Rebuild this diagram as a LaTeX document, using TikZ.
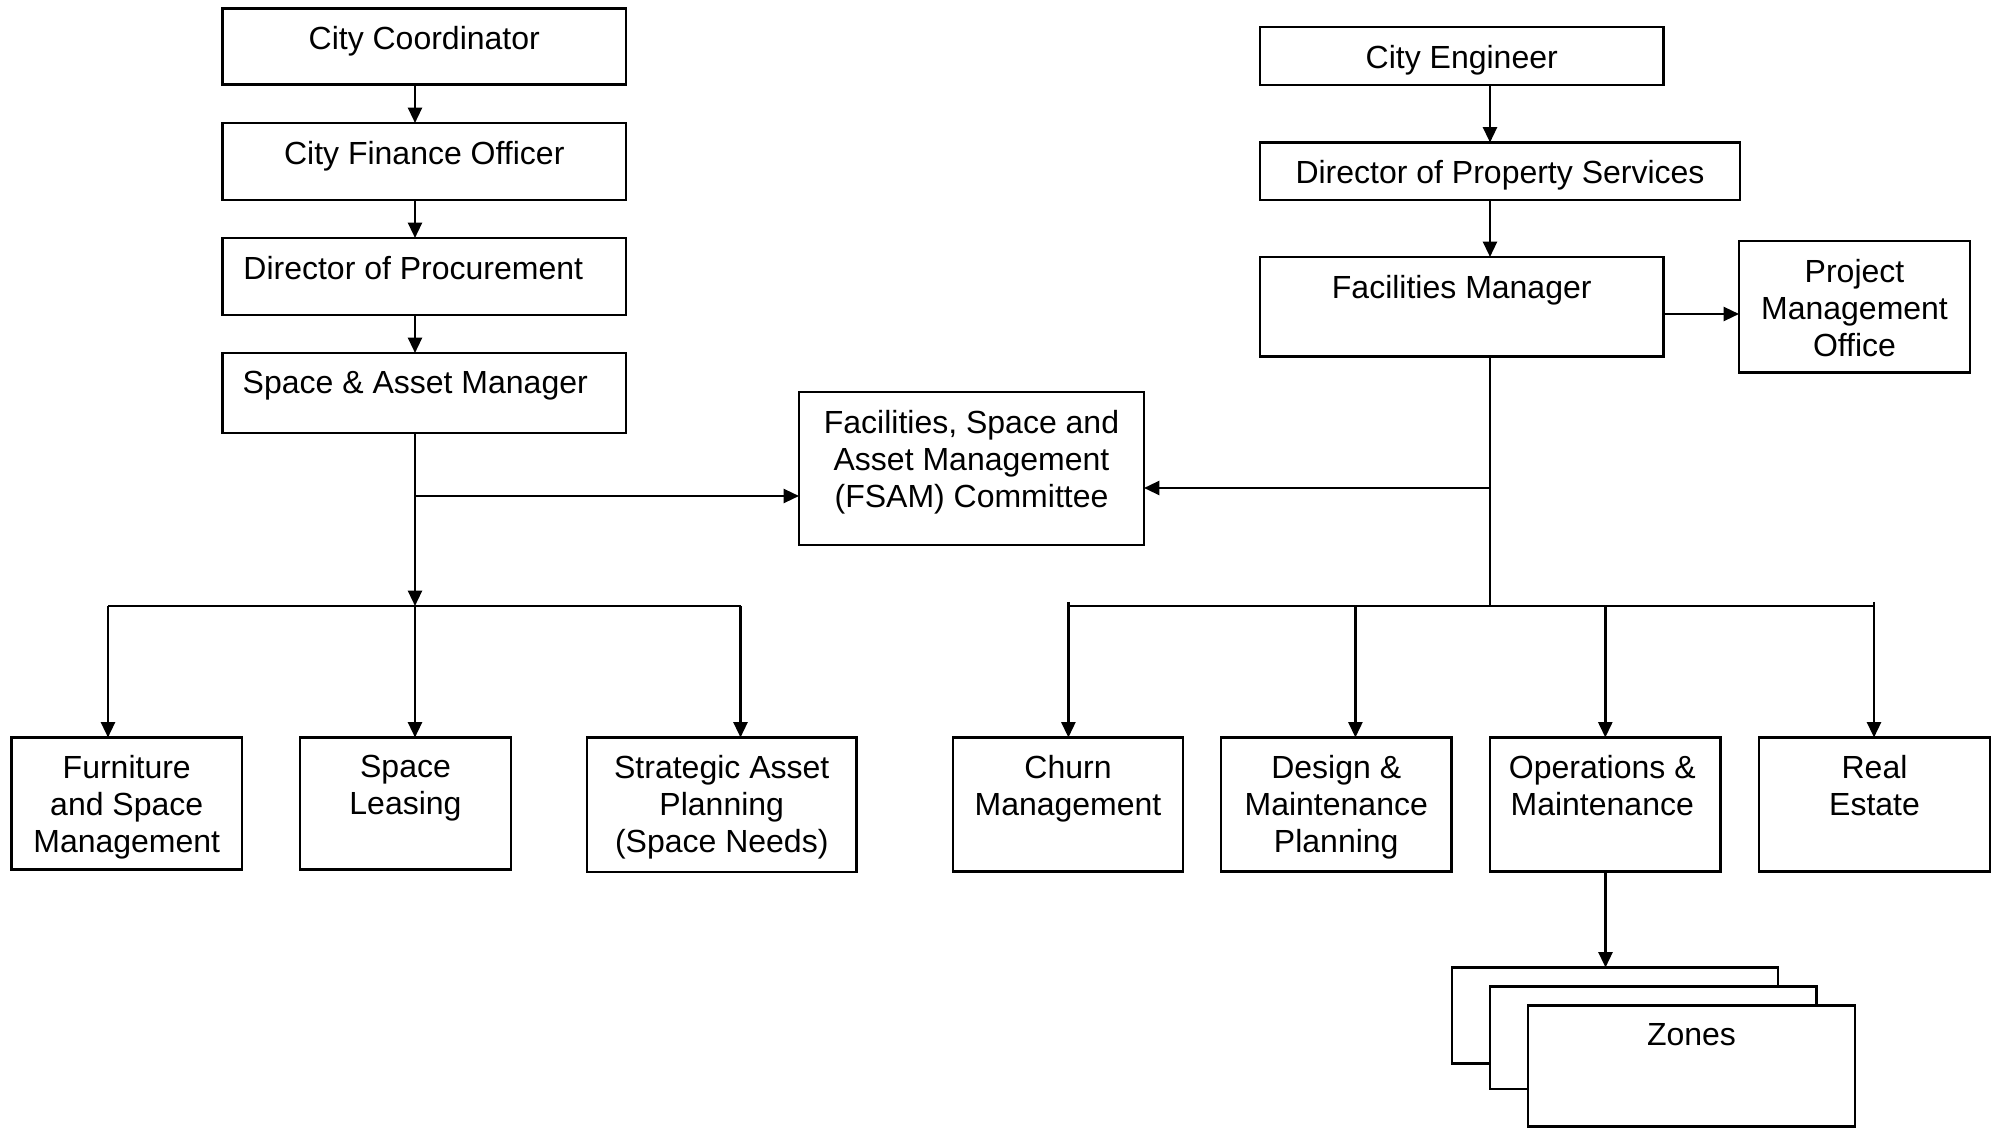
\documentclass[tikz,border=0pt]{standalone}
\usepackage{fontspec}
\setmainfont{Liberation Sans}
\usetikzlibrary{arrows.meta,calc}
\tikzset{
  box/.style={draw, line width=0.65pt, inner sep=0pt, outer sep=0pt, fill=white},
  txt/.style={inner sep=0pt, outer sep=0pt, align=center, font=\fontsize{9.1pt}{10.5pt}\selectfont},
  conn/.style={line width=0.7pt},
  arr/.style={conn, -{Triangle[length=4.4pt,width=4pt]}},
  thinconn/.style={line width=0.4pt},
}
\newcommand\orgbox[7]{%
  \node[box, anchor=north west, minimum width={(#4-#2)*0.01cm}, minimum height={(#5-#3)*0.01cm}] (#1) at (#2,#3) {};
  \node[txt, anchor=north] (#1t) at ([xshift={#7*0.01cm}, yshift=-0.18cm]#1.north) {#6};
}
\newcommand\plainbox[5]{%
  \node[box, anchor=north west, minimum width={(#4-#2)*0.01cm}, minimum height={(#5-#3)*0.01cm}] (#1) at (#2,#3) {};
}
\begin{document}
\begin{tikzpicture}[x=0.01cm, y=-0.01cm]
\fill[white] (0,0) rectangle (2000,1128);
\useasboundingbox (0,0) rectangle (2000,1128);

% left column
\orgbox{cc}{222.5}{8.5}{626}{84.5}{City Coordinator}{0}
\orgbox{cfo}{222.5}{123}{626}{200}{City Finance Officer}{0}
\orgbox{dp}{222.5}{238}{626}{315}{Director of Procurement}{-11}
\orgbox{sam}{222.5}{353}{626}{433}{Space \& Asset Manager}{-9}

% committee
\orgbox{fsam}{799}{392}{1144}{545}{Facilities, Space and\\Asset Management\\(FSAM) Committee}{0}

% right column
\orgbox{ce}{1260}{27}{1663.5}{85}{City Engineer}{0}
\orgbox{dps}{1260}{142.5}{1740}{200}{Director of Property Services}{0}
\orgbox{fm}{1260}{257}{1663.5}{356.5}{Facilities Manager}{0}
\orgbox{pmo}{1739}{241}{1970}{372.5}{Project\\Management\\Office}{0}

% bottom row left
\orgbox{fsm}{11.5}{737.5}{242}{869.5}{Furniture\\and Space\\Management}{0}
\orgbox{sl}{300}{737.5}{511}{869.5}{Space\\Leasing}{0}
\orgbox{sap}{587}{737.5}{856.5}{872}{Strategic Asset\\Planning\\(Space Needs)}{0}

% bottom row right
\orgbox{chm}{953}{737.5}{1183}{871.5}{Churn\\Management}{0}
\orgbox{dmp}{1221}{737.5}{1451.5}{871.5}{Design \&\\Maintenance\\Planning}{0}
\orgbox{om}{1490}{737.5}{1720.5}{871.5}{Operations \&\\Maintenance}{-3}
\orgbox{re}{1759}{737.5}{1990}{871.5}{Real\\Estate}{0}

% zones stack
\plainbox{z1}{1452}{967.5}{1778}{1063.5}
\plainbox{z2}{1490}{986.5}{1816.5}{1089}
\orgbox{z3}{1528}{1005.5}{1855}{1126.5}{Zones}{0}

% coordinates
\coordinate (lx) at (415,0);
\coordinate (lj) at (415,496);
\coordinate (lbusM) at (415,606);
\coordinate (lbusL) at (108,606);
\coordinate (lbusR) at (740.5,606);
\coordinate (rx) at (1490,0);
\coordinate (pmoy) at (0,314);
\coordinate (rj) at (1490,488);
\coordinate (rbusM) at (1490,606);
\coordinate (rbusL) at (1068.4,606);
\coordinate (rbusR) at (1874,606);
\coordinate (d1) at (1068.4,602);
\coordinate (d2) at (1355.4,606);
\coordinate (d3) at (1605.3,606);
\coordinate (d4) at (1874,602);
\coordinate (zx) at (1605.5,0);

% left connectors
\draw[arr] (cc.south -| lx) -- (cfo.north -| lx);
\draw[arr] (cfo.south -| lx) -- (dp.north -| lx);
\draw[arr] (dp.south -| lx) -- (sam.north -| lx);
\draw[arr] (sam.south -| lx) -- (lbusM);
\draw[arr] (lj) -- (fsam.west |- lj);
\draw[conn] (lbusL) -- (lbusR);
\draw[arr] (lbusL) -- (fsm.north -| lbusL);
\draw[arr] (lbusM) -- (sl.north -| lbusM);
\draw[arr] (lbusR) -- (sap.north -| lbusR);

% right connectors
\draw[arr] (ce.south -| rx) -- (dps.north -| rx);
\draw[arr] (dps.south -| rx) -- (fm.north -| rx);
\draw[arr] (fm.east |- pmoy) -- (pmo.west |- pmoy);
\draw[thinconn] (fm.south -| rx) -- (rbusM);
\draw[arr] (rj) -- (fsam.east |- rj);
\draw[conn] (rbusL) -- (rbusR);
\draw[arr] (d1) -- (chm.north -| d1);
\draw[arr] (d2) -- (dmp.north -| d2);
\draw[arr] (d3) -- (om.north -| d3);
\draw[arr] (d4) -- (re.north -| d4);
\draw[arr] (om.south -| zx) -- (z1.north -| zx);
\end{tikzpicture}
\end{document}
